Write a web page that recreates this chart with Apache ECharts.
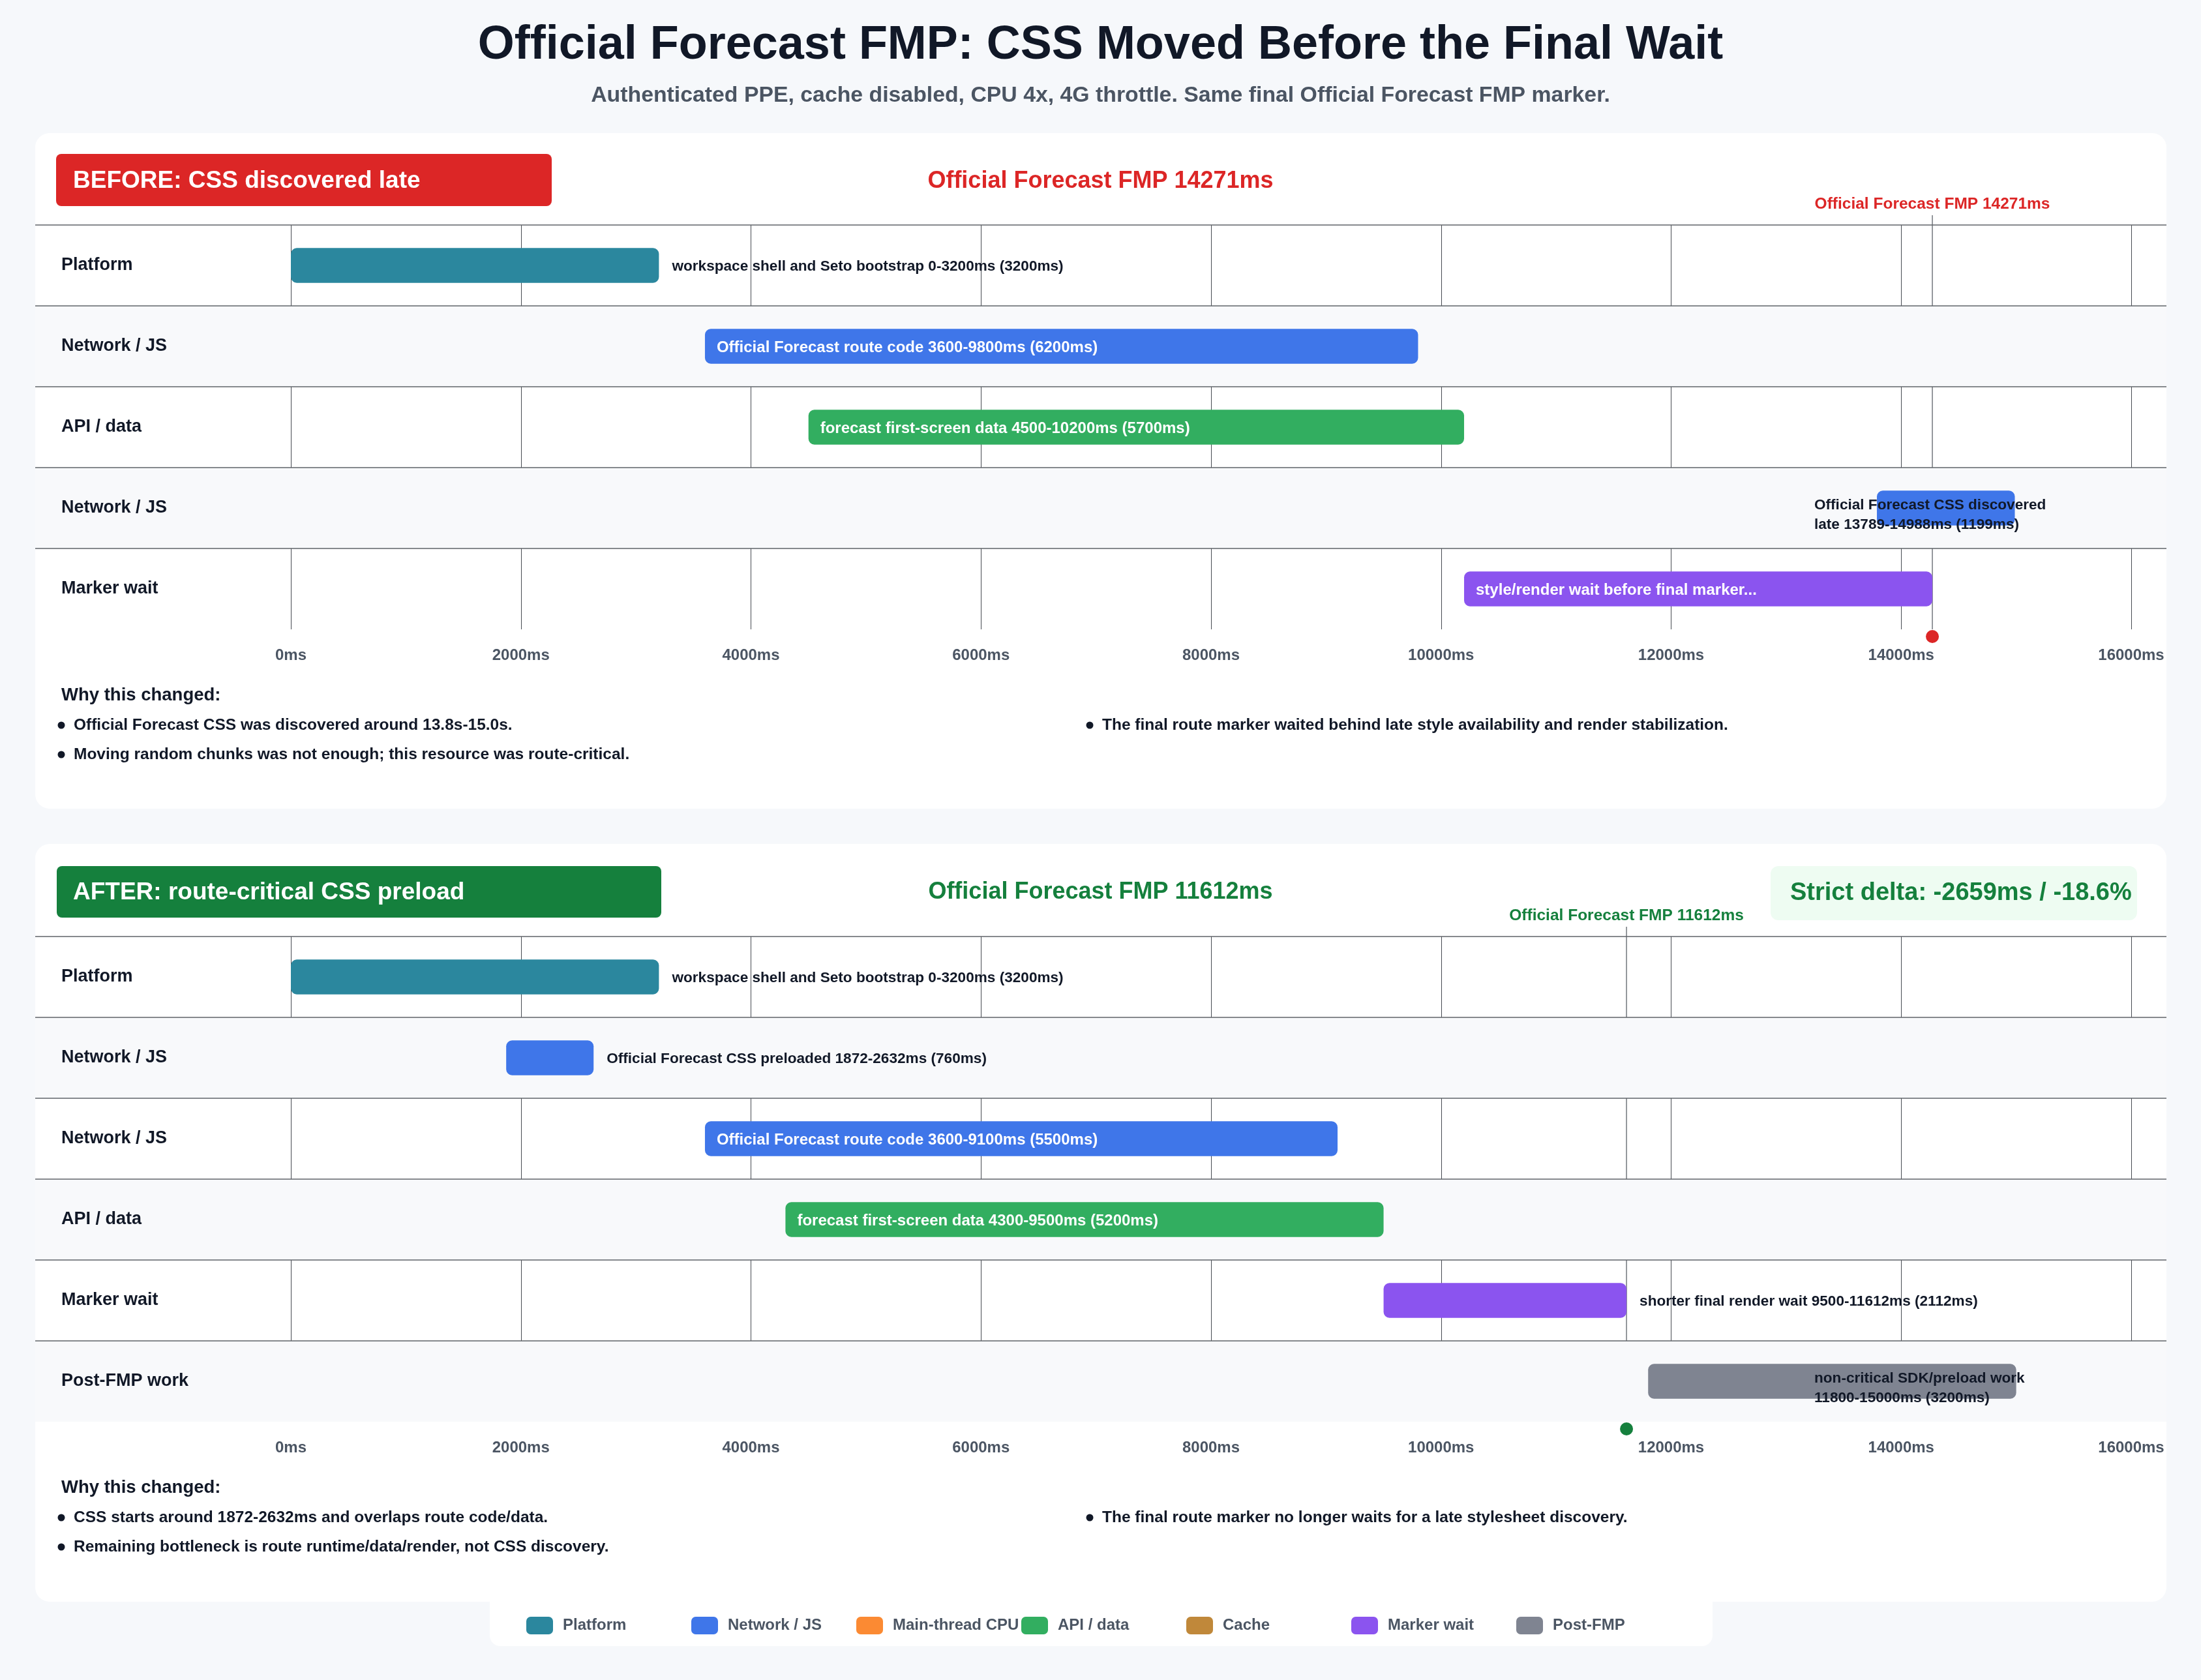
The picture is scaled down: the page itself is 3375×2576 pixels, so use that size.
<!DOCTYPE html>
<html>
<head>
<meta charset="utf-8">
<script src="https://cdn.jsdelivr.net/npm/echarts@6/dist/echarts.min.js"></script>
<style>
html,body{margin:0;padding:0;background:#f6f8fb;}
#chart{width:3375px;height:2576px;}
</style>
</head>
<body>
<div id="chart"></div>
<script>
// ---------------- DATA ----------------
const categories = ['Platform', 'Network / JS', 'Main-thread CPU', 'API / data', 'Cache', 'Marker wait', 'Post-FMP'];
const categoryColors = ['#2b879e', '#3f76e9', '#fb8a33', '#32ae60', '#c0883a', '#8b54ef', '#7f8491'];

const xMin = 0;
const xMax = 16000;
const xStep = 2000;
const xUnit = 'ms';

const beforeRows = ['Platform', 'Network / JS', 'API / data', 'Network / JS', 'Marker wait'];
const beforeCategory = ['Platform', 'Network / JS', 'API / data', 'Network / JS', 'Marker wait'];
const beforeStart = [0, 3600, 4500, 13789, 10200];
const beforeEnd = [3200, 9800, 10200, 14988, 14271];
const beforeLabels = [
  'workspace shell and Seto bootstrap 0-3200ms (3200ms)',
  'Official Forecast route code 3600-9800ms (6200ms)',
  'forecast first-screen data 4500-10200ms (5700ms)',
  'Official Forecast CSS discovered late 13789-14988ms (1199ms)',
  'style/render wait before final marker...'
];
const beforeFmp = 14271;
const beforeNotes = [
  'Official Forecast CSS was discovered around 13.8s-15.0s.',
  'The final route marker waited behind late style availability and render stabilization.',
  'Moving random chunks was not enough; this resource was route-critical.'
];

const afterRows = ['Platform', 'Network / JS', 'Network / JS', 'API / data', 'Marker wait', 'Post-FMP work'];
const afterCategory = ['Platform', 'Network / JS', 'Network / JS', 'API / data', 'Marker wait', 'Post-FMP'];
const afterStart = [0, 1872, 3600, 4300, 9500, 11800];
const afterEnd = [3200, 2632, 9100, 9500, 11612, 15000];
const afterLabels = [
  'workspace shell and Seto bootstrap 0-3200ms (3200ms)',
  'Official Forecast CSS preloaded 1872-2632ms (760ms)',
  'Official Forecast route code 3600-9100ms (5500ms)',
  'forecast first-screen data 4300-9500ms (5200ms)',
  'shorter final render wait 9500-11612ms (2112ms)',
  'non-critical SDK/preload work 11800-15000ms (3200ms)'
];
const afterFmp = 11612;
const afterNotes = [
  'CSS starts around 1872-2632ms and overlaps route code/data.',
  'The final route marker no longer waits for a late stylesheet discovery.',
  'Remaining bottleneck is route runtime/data/render, not CSS discovery.'
];

const titleText = 'Official Forecast FMP: CSS Moved Before the Final Wait';
const subtitleText = 'Authenticated PPE, cache disabled, CPU 4x, 4G throttle. Same final Official Forecast FMP marker.';
const beforeBadge = 'BEFORE: CSS discovered late';
const afterBadge = 'AFTER: route-critical CSS preload';
const notesHeading = 'Why this changed:';

// ---------------- LAYOUT / STYLE ----------------
const FONT = '"Liberation Sans", Arial, Helvetica, sans-serif';
const W = 3375;
const CARD_L = 54, CARD_R = 3322;
const PLOT_L = 446, PLOT_R = 3268;
const RED = '#dc2626', GREEN = '#15803d', INK = '#111827', MUTED = '#4b5563';
const ROW_BG = '#f8f9fb';
const SEP = '#5f6368';
const IN_SIZE = 24, OUT_SIZE = 22.6;
const TY = 2; // small optical shift for middle-aligned text

const measureCtx = document.createElement('canvas').getContext('2d');
function textWidth(t, size) {
  measureCtx.font = 'bold ' + size + 'px ' + FONT;
  return measureCtx.measureText(t).width;
}

function txt(text, x, y, size, color, align, extra) {
  const st = Object.assign({
    text: text, x: x, y: y + TY, fill: color,
    fontSize: size, fontWeight: 'bold', fontFamily: FONT,
    textAlign: align || 'left', textVerticalAlign: 'middle',
    align: align || 'left', verticalAlign: 'middle'
  }, extra || {});
  return { type: 'text', z: 100, style: st };
}

const fmt = v => v + xUnit;
const deltaMs = afterFmp - beforeFmp;
const deltaPct = (deltaMs / beforeFmp * 100).toFixed(1);
const deltaText = 'Strict delta: ' + deltaMs + 'ms / ' + deltaPct + '%';

// ---------------- SERIES BUILDERS ----------------
function rowBgSeries(p, rows) {
  return {
    type: 'custom', name: 'rows' + p, xAxisIndex: p, yAxisIndex: p, z: 2, silent: true, clip: false,
    data: rows.map((_, i) => [i, 0]),
    encode: { y: 0, x: 1 },
    renderItem: function (params, api) {
      const i = api.value(0);
      const c = api.coord([0, i]);
      const bh = api.size([0, 1])[1];
      const top = c[1] - bh / 2;
      const ch = [];
      if (i % 2 === 1) {
        ch.push({ type: 'rect', shape: { x: CARD_L, y: top, width: CARD_R - CARD_L, height: bh }, style: { fill: ROW_BG } });
      }
      ch.push({ type: 'line', shape: { x1: CARD_L, y1: top, x2: CARD_R, y2: top }, style: { stroke: SEP, lineWidth: 1.6 } });
      return { type: 'group', children: ch };
    }
  };
}

function markerSeries(p, fmp, color) {
  return {
    type: 'custom', name: 'marker' + p, xAxisIndex: p, yAxisIndex: p, z: 1, silent: true, clip: false,
    data: [[fmp, 0]],
    encode: { x: 0, y: 1 },
    renderItem: function (params, api) {
      const cs = params.coordSys;
      const x = api.coord([api.value(0), 0])[0];
      return {
        type: 'group', children: [
          { type: 'line', shape: { x1: x, y1: cs.y - 15, x2: x, y2: cs.y + cs.height }, style: { stroke: '#50555c', lineWidth: 1.2 } },
          { type: 'circle', shape: { cx: x, cy: cs.y + cs.height + 11, r: 10 }, style: { fill: color } },
          txt('Official Forecast FMP ' + api.value(0) + 'ms', x, cs.y - 34, 24.5, color, 'center')
        ]
      };
    }
  };
}

function barSeries(p, cat, color, cats, starts, ends, labels) {
  const data = [];
  cats.forEach((c, i) => { if (c === cat) data.push([i, starts[i], ends[i], i]); });
  return {
    type: 'custom', name: cat, xAxisIndex: p, yAxisIndex: p, z: 3, clip: false,
    itemStyle: { color: color },
    data: data,
    encode: { y: 0, x: [1, 2] },
    renderItem: function (params, api) {
      const cs = params.coordSys;
      const row = api.value(0);
      const p0 = api.coord([api.value(1), row]);
      const p1 = api.coord([api.value(2), row]);
      const bh = api.size([0, 1])[1];
      const h = bh * 0.43;
      const bw = p1[0] - p0[0];
      const label = labels[api.value(3)];
      const plotRight = cs.x + cs.width;
      let t;
      if (textWidth(label, IN_SIZE) + 36 <= bw) {
        t = txt(label, p0[0] + 18, p0[1], IN_SIZE, '#ffffff', 'left');
      } else if (p1[0] + 20 + textWidth(label, OUT_SIZE) <= plotRight) {
        t = txt(label, p1[0] + 20, p0[1], OUT_SIZE, INK, 'left');
      } else {
        t = txt(label, plotRight - 486, p0[1] + 9, OUT_SIZE, INK, 'left', { width: 364, overflow: 'break', lineHeight: 30 });
      }
      return {
        type: 'group', children: [
          { type: 'rect', shape: { x: p0[0], y: p0[1] - h / 2, width: bw, height: h, r: 9 }, style: { fill: color } },
          t
        ]
      };
    }
  };
}

const series = [];
series.push(markerSeries(0, beforeFmp, RED));
series.push(markerSeries(1, afterFmp, GREEN));
series.push(rowBgSeries(0, beforeRows));
series.push(rowBgSeries(1, afterRows));
categories.forEach((cat, k) => {
  series.push(barSeries(0, cat, categoryColors[k], beforeCategory, beforeStart, beforeEnd, beforeLabels));
  series.push(barSeries(1, cat, categoryColors[k], afterCategory, afterStart, afterEnd, afterLabels));
});

function xAxisCfg(g) {
  return {
    type: 'value', gridIndex: g, min: xMin, max: xMax, interval: xStep,
    axisLine: { show: false }, axisTick: { show: false },
    splitLine: { show: true, lineStyle: { color: '#474b52', width: 1 } },
    axisLabel: { formatter: fmt, margin: 28, fontSize: 24, fontWeight: 'bold', color: MUTED, fontFamily: FONT }
  };
}
function yAxisCfg(g, rows) {
  return {
    type: 'category', gridIndex: g, data: rows, inverse: true, z: 20,
    axisLine: { show: false }, axisTick: { show: false }, splitLine: { show: false },
    axisLabel: { align: 'left', margin: PLOT_L - 94, fontSize: 27, fontWeight: 'bold', color: INK, fontFamily: FONT }
  };
}

// ---------------- GRAPHIC (cards, headers, notes) ----------------
const graphics = [
  { type: 'rect', z: -10, shape: { x: CARD_L, y: 204, width: CARD_R - CARD_L, height: 1036, r: 22 }, style: { fill: '#ffffff' } },
  { type: 'rect', z: -10, shape: { x: CARD_L, y: 1294, width: CARD_R - CARD_L, height: 1162, r: 22 }, style: { fill: '#ffffff' } },
  { type: 'rect', z: -10, shape: { x: 751, y: 2450, width: 1875, height: 74, r: [0, 0, 16, 16] }, style: { fill: '#ffffff' } },
  txt(titleText, W / 2, 68, 72, INK, 'center'),
  txt(subtitleText, W / 2, 145, 33.8, MUTED, 'center'),
  { type: 'rect', z: 50, shape: { x: 86, y: 236, width: 760, height: 80, r: 8 }, style: { fill: RED } },
  txt(beforeBadge, 112, 276, 37, '#ffffff', 'left'),
  txt('Official Forecast FMP ' + beforeFmp + 'ms', W / 2, 276, 36, RED, 'center'),
  { type: 'rect', z: 50, shape: { x: 87, y: 1328, width: 927, height: 79, r: 8 }, style: { fill: GREEN } },
  txt(afterBadge, 112, 1367, 37, '#ffffff', 'left'),
  txt('Official Forecast FMP ' + afterFmp + 'ms', W / 2, 1366, 36, GREEN, 'center'),
  { type: 'rect', z: 50, shape: { x: 2715, y: 1328, width: 562, height: 83, r: 12 }, style: { fill: '#eefcf2' } },
  txt(deltaText, 2745, 1368, 38, GREEN, 'left')
];

function addNotes(notes, headY) {
  graphics.push(txt(notesHeading, 94, headY, 27.5, INK, 'left'));
  notes.forEach((n, i) => {
    const col = i % 2, row = Math.floor(i / 2);
    const bx = col === 0 ? 94 : 1671;
    const y = headY + 46 + row * 45;
    graphics.push({ type: 'circle', z: 100, shape: { cx: bx, cy: y + TY, r: 5.5 }, style: { fill: INK } });
    graphics.push(txt(n, bx + 19, y, 24.5, INK, 'left'));
  });
}
addNotes(beforeNotes, 1064);
addNotes(afterNotes, 2279);

// ---------------- LEGEND (fixed slots) ----------------
const legends = categories.map((c, i) => ({
  data: [c], left: 807 + i * 253, top: 2479, padding: 0, itemGap: 0,
  itemWidth: 41, itemHeight: 27, icon: 'roundRect', selectedMode: false,
  textStyle: { fontSize: 24, fontWeight: 'bold', color: MUTED, fontFamily: FONT, padding: [0, 0, 0, 10] }
}));

// ---------------- OPTION ----------------
const option = {
  backgroundColor: '#f6f8fb',
  animation: false,
  color: categoryColors,
  grid: [
    { left: PLOT_L, width: PLOT_R - PLOT_L, top: 345, height: 620 },
    { left: PLOT_L, width: PLOT_R - PLOT_L, top: 1436, height: 744 }
  ],
  xAxis: [xAxisCfg(0), xAxisCfg(1)],
  yAxis: [yAxisCfg(0, beforeRows), yAxisCfg(1, afterRows)],
  legend: legends,
  graphic: { elements: graphics },
  series: series
};

const chart = echarts.init(document.getElementById('chart'), null, { renderer: 'canvas', width: 3375, height: 2576 });
chart.setOption(option);
</script>
</body>
</html>
